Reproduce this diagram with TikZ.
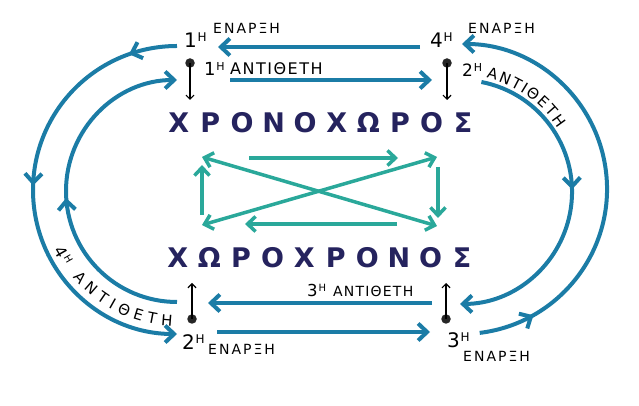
\documentclass[tikz,border=0pt]{standalone}
\usepackage{fontspec}
\setmainfont{DejaVu Sans}
\usetikzlibrary{arrows.meta,decorations.markings,decorations.text}
\definecolor{navy}{HTML}{25235E}
\definecolor{cblue}{HTML}{1B7CA6}
\definecolor{cteal}{HTML}{2AA89A}
% letter spacing
\newcommand\lspc[2]{\def\lspk{#1}\lspcA#2\relax}
\def\lspcA#1{\ifx\relax#1\else#1\expandafter\lspcB\fi}
\def\lspcB#1{\ifx\relax#1\else\kern\lspk#1\expandafter\lspcB\fi}
% fixed pitch letters
\newcommand\pitched[2]{\def\pitchw{#1}\pitchedA#2\relax}
\def\pitchedA#1{\ifx\relax#1\else\makebox[\pitchw]{#1}\expandafter\pitchedA\fi}
\newcommand\ordn[3]{#1\kern0.8pt\raisebox{#3}{\fontsize{#2}{#2}\selectfont Η}}
\tikzset{
  barb/.tip={Straight Barb[length=9pt,width=17pt]},
  bluearrow/.style={draw=cblue, line width=4pt, -barb},
  tealarrow/.style={draw=cteal, line width=3.5pt, -{Straight Barb[length=8pt,width=15pt]}},
  tealboth/.style={draw=cteal, line width=3.5pt, {Straight Barb[length=8pt,width=15pt]}-{Straight Barb[length=8pt,width=15pt]}},
  blk/.style={draw=black, line width=1.2pt, -{Straight Barb[length=4pt,width=8pt]}},
  dot/.style={circle, fill=black!85, inner sep=0pt, minimum size=9.5pt},
  lbl/.style={anchor=base west, inner sep=0pt, text=black},
  title/.style={inner sep=0pt, text=navy, font=\bfseries\fontsize{27}{27}\selectfont},
  chev/.style={cblue, line width=4pt},
}
\begin{document}
\begin{tikzpicture}[x=1pt,y=1pt]
\useasboundingbox (0,0) rectangle (639,406);

% titles
\node[title] (t1) at (321,283) {\pitched{31.6pt}{ΧΡΟΝΟΧΩΡΟΣ}};
\node[title] (t2) at (320,148) {\pitched{31.6pt}{ΧΩΡΟΧΡΟΝΟΣ}};

% top labels
\node[lbl, font=\fontsize{20}{20}\selectfont] (o1) at (184,358) {\ordn{1}{12}{6pt}};
\node[lbl, font=\fontsize{14}{14}\selectfont] (e1) at (213,372) {\lspc{2pt}{ΕΝΑΡΞΗ}};
\node[lbl, font=\fontsize{20}{20}\selectfont] (o4) at (430,358) {\ordn{4}{12}{6pt}};
\node[lbl, font=\fontsize{14}{14}\selectfont] (e4) at (468,372) {\lspc{2pt}{ΕΝΑΡΞΗ}};
\node[lbl, font=\fontsize{18}{18}\selectfont] (o1a) at (204,330) {\ordn{1}{11}{5.5pt}};
\node[lbl, font=\fontsize{16}{16}\selectfont] (a1) at (230,331) {\lspc{1.5pt}{ΑΝΤΙΘΕΤΗ}};
\node[lbl, font=\fontsize{17}{17}\selectfont] (o2a) at (462,329) {\ordn{2}{11}{5pt}};

% bottom labels
\node[lbl, font=\fontsize{16.5}{16.5}\selectfont] (o3a) at (307,109) {\ordn{3}{10}{5pt}};
\node[lbl, font=\fontsize{14}{14}\selectfont] (a3) at (333,109) {\lspc{1.2pt}{ΑΝΤΙΘΕΤΗ}};
\node[lbl, font=\fontsize{20}{20}\selectfont] (o2) at (182,56) {\ordn{2}{12}{6pt}};
\node[lbl, font=\fontsize{14}{14}\selectfont] (e2) at (208,51) {\lspc{2pt}{ΕΝΑΡΞΗ}};
\node[lbl, font=\fontsize{20}{20}\selectfont] (o3) at (447,58) {\ordn{3}{12}{6pt}};
\node[lbl, font=\fontsize{14}{14}\selectfont] (e3) at (463,44) {\lspc{2pt}{ΕΝΑΡΞΗ}};

% rotated 4H on the left arc
\node[inner sep=0pt, rotate=-60, font=\fontsize{16}{16}\selectfont] (o4a) at (63.6,150.5) {\ordn{4}{10}{5pt}};

% curved texts
\path[decorate, decoration={text along path, text={|\fontsize{15}{15}\selectfont|ΑΝΤΙΘΕΤΗ}, text align=fit to path}]
  (72.8,128.6) arc[start angle=220, end angle=268, radius=136];
\path[decorate, decoration={text along path, text={|\fontsize{15}{15}\selectfont|ΑΝΤΙΘΕΤΗ}, text align=fit to path}]
  (486.3,328.0) arc[start angle=77, end angle=33, radius=117];

% dots and black arrows
\node[dot] (d1) at (190,343) {};
\node[dot] (d4) at (447,343) {};
\node[dot] (d2) at (192,87) {};
\node[dot] (d3) at (446,87) {};
\coordinate (k1) at (190,306);
\coordinate (k4) at (447,306);
\coordinate (k2) at (192,123);
\coordinate (k3) at (446,123);
\draw[blk] (d1.center) -- (k1);
\draw[blk] (d4.center) -- (k4);
\draw[blk] (d2.center) -- (k2);
\draw[blk] (d3.center) -- (k3);

% straight blue arrows
\coordinate (ta1) at (420,359); \coordinate (ta2) at (218,359);
\coordinate (ma1) at (230,326); \coordinate (ma2) at (432,326);
\coordinate (ba1) at (432,103); \coordinate (ba2) at (208,103);
\coordinate (bb1) at (217,74);  \coordinate (bb2) at (430,74);
\draw[bluearrow] (ta1) -- (ta2);
\draw[bluearrow] (ma1) -- (ma2);
\draw[bluearrow] (ba1) -- (ba2);
\draw[bluearrow] (bb1) -- (bb2);

% arcs
\coordinate (lo) at (177,360);
\coordinate (li) at (177,104);
\coordinate (ro) at (479.7,73.1);
\coordinate (ri) at (481.4,324);
\draw[bluearrow, postaction={decorate, decoration={markings,
    mark=at position 0.108 with {\arrow[chev]{barb}},
    mark=at position 0.49 with {\arrow[chev]{barb}}}}]
  (lo) arc[start angle=90, end angle=270, radius=144];
\draw[bluearrow, postaction={decorate, decoration={markings,
    mark=at position 0.48 with {\arrow[chev]{barb}}}}]
  (li) arc[start angle=-90, end angle=-270, radius=111];
\draw[bluearrow, postaction={decorate, decoration={markings,
    mark=at position 0.13 with {\arrow[chev]{barb}}}}]
  (ro) arc[start angle=-83, end angle=90, radius=145];
\draw[bluearrow, postaction={decorate, decoration={markings,
    mark=at position 0.46 with {\arrow[chev]{barb}}}}]
  (ri) arc[start angle=79, end angle=-90, radius=112];

% teal arrows
\coordinate (q1) at (249,248); \coordinate (q2) at (398,248);
\coordinate (q3) at (438,239); \coordinate (q4) at (438,188);
\coordinate (q5) at (397,182); \coordinate (q6) at (245,182);
\coordinate (q7) at (202,191); \coordinate (q8) at (202,241);
\coordinate (c1) at (202,249); \coordinate (c2) at (437,180);
\coordinate (c3) at (202,181); \coordinate (c4) at (437,249);
\draw[tealarrow] (q1) -- (q2);
\draw[tealarrow] (q3) -- (q4);
\draw[tealarrow] (q5) -- (q6);
\draw[tealarrow] (q7) -- (q8);
\draw[tealboth] (c1) -- (c2);
\draw[tealboth] (c3) -- (c4);
\end{tikzpicture}
\end{document}
